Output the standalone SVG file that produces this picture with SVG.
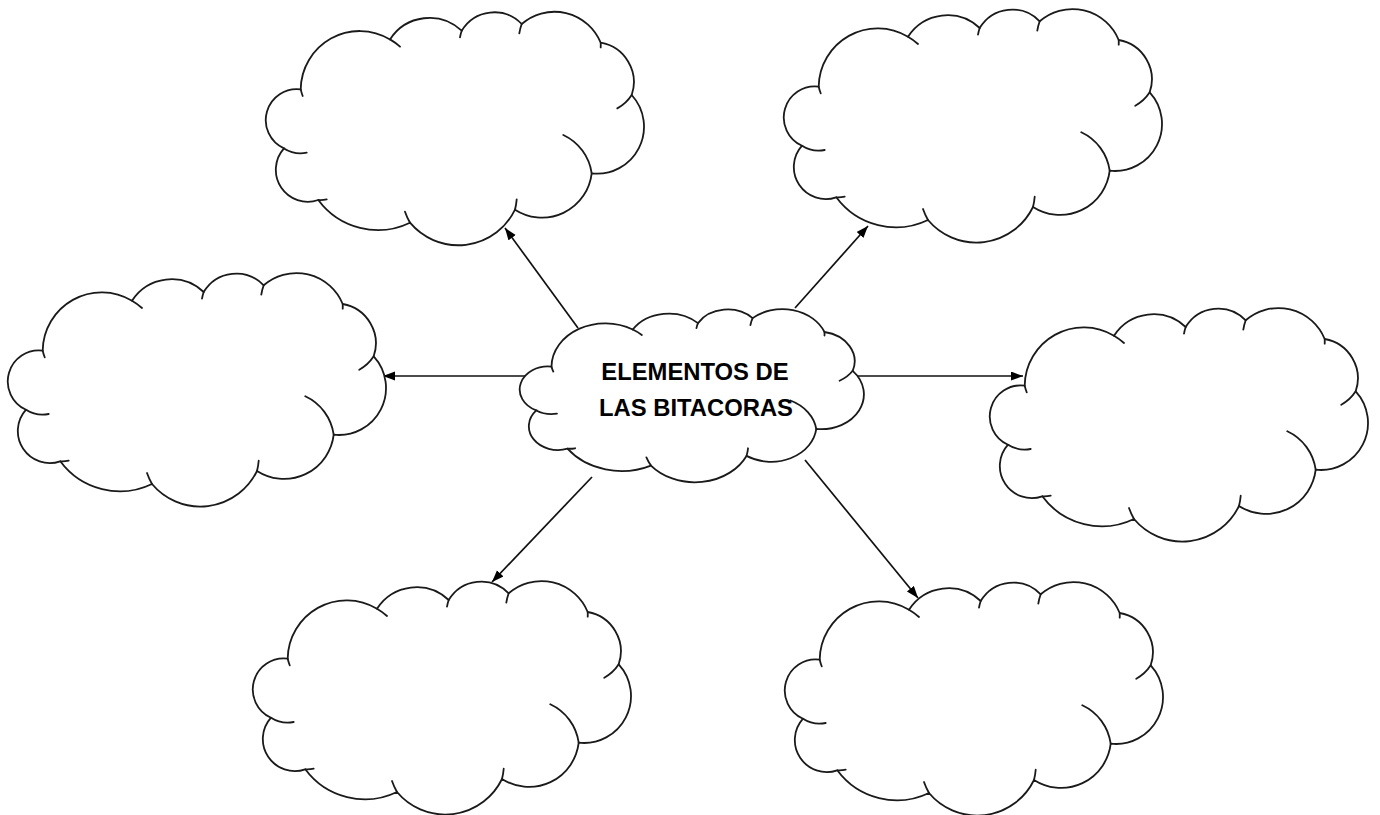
<svg xmlns="http://www.w3.org/2000/svg" xmlns:xlink="http://www.w3.org/1999/xlink" width="1380" height="815" viewBox="0 0 1380 815">
<style>
.cloud{fill:#fff;stroke:#1a1a1a;stroke-width:1.8;vector-effect:non-scaling-stroke;stroke-linecap:round}
.inner{fill:none;stroke:#1a1a1a;stroke-width:1.8;vector-effect:non-scaling-stroke;stroke-linecap:round}
.conn{stroke:#111;stroke-width:1.7;fill:none}
.lbl{font-family:"Liberation Sans",Arial,sans-serif;font-weight:bold;font-size:23.8px;fill:#000}
</style>
<defs>
<marker id="arr" markerUnits="userSpaceOnUse" markerWidth="13" markerHeight="10" refX="12" refY="4.5" orient="auto">
<path d="M0,0 L12,4.5 L0,9 Z" fill="#000"/>
</marker>
<g id="cloudShape">
<path class="cloud" d="M35.7,77.7 A31,31 0 0 0 19,136.7 A32,32 0 0 0 53.3,188.3 A74,74 0 0 0 145,211 A63,63 0 0 0 250,198 A50,50 0 0 0 326.7,161.7 A47,47 0 0 0 366.7,83.3 A40,40 0 0 0 335.7,31 A50,50 0 0 0 256.7,12.3 A38,38 0 0 0 196.7,19 A47,47 0 0 0 125,27.7 A59,59 0 0 0 35.7,77.7 Z"/>
<path class="inner" d="M19,136.7 A31,31 0 0 0 41.7,141 M35.7,77.7 A59,59 0 0 0 37.7,84.3 M53.3,188.3 A32,32 0 0 0 61.7,187.7 M145,211 A63,63 0 0 1 140,200 M250,198 A63,63 0 0 0 251.7,187.7 M326.7,161.7 A50,50 0 0 0 298.3,123.3 M366.7,83.3 A40,40 0 0 1 352.3,96.7 M335.7,31 A50,50 0 0 1 335.7,35.7 M256.7,12.3 A50,50 0 0 0 254.3,21.7 M196.7,19 A38,38 0 0 0 195,25.7 M125,27.7 A59,59 0 0 1 135,35"/>
</g>
</defs>
<g id="connectors">
<line class="conn" x1="578" y1="328" x2="505" y2="228" marker-end="url(#arr)"/>
<line class="conn" x1="795" y1="308" x2="868" y2="226" marker-end="url(#arr)"/>
<line class="conn" x1="530" y1="376" x2="383" y2="376" marker-end="url(#arr)"/>
<line class="conn" x1="852" y1="376" x2="1023" y2="376" marker-end="url(#arr)"/>
<line class="conn" x1="592" y1="477" x2="492" y2="582" marker-end="url(#arr)"/>
<line class="conn" x1="805" y1="460" x2="918" y2="598" marker-end="url(#arr)"/>
</g>
<g id="cloud-top-left"><use xlink:href="#cloudShape" href="#cloudShape" transform="translate(265,11.7)"/></g>
<g id="cloud-top-right"><use xlink:href="#cloudShape" href="#cloudShape" transform="translate(783,9)"/></g>
<g id="cloud-left"><use xlink:href="#cloudShape" href="#cloudShape" transform="translate(7,273)"/></g>
<g id="cloud-right"><use xlink:href="#cloudShape" href="#cloudShape" transform="translate(989,308)"/></g>
<g id="cloud-bottom-left"><use xlink:href="#cloudShape" href="#cloudShape" transform="translate(252,581)"/></g>
<g id="cloud-bottom-right"><use xlink:href="#cloudShape" href="#cloudShape" transform="translate(784,582)"/></g>
<g id="cloud-center">
<use xlink:href="#cloudShape" href="#cloudShape" transform="translate(519,309) scale(0.91,0.742)"/>
<text class="lbl" x="695" y="380" text-anchor="middle">ELEMENTOS DE</text>
<text class="lbl" x="696" y="416" text-anchor="middle">LAS BITACORAS</text>
</g>
</svg>
